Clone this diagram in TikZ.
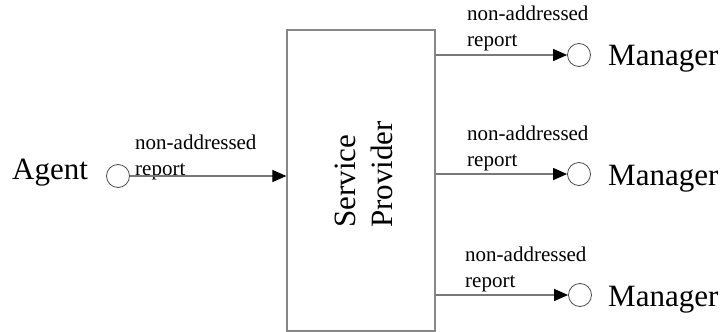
\documentclass[tikz,border=0pt]{standalone}
\usepackage{fontspec}
\setmainfont{Liberation Serif}
\usetikzlibrary{arrows.meta}
\definecolor{linegray}{RGB}{120,120,120}
\definecolor{boxgray}{RGB}{135,135,135}
\begin{document}
\begin{tikzpicture}[x=1pt,y=-1pt,
  port/.style={circle,draw=black!70,line width=0.8pt,minimum size=23pt,inner sep=0pt},
  big/.style={font={\fontsize{31}{37}\selectfont},inner sep=0pt},
  lbl/.style={font={\fontsize{21}{26}\selectfont},inner sep=0pt,align=left},
  conn/.style={draw=linegray,line width=1.2pt,-{Triangle[length=14pt,width=12pt,black]}}]
\useasboundingbox (0,0) rectangle (721,332);
% service provider box
\node[draw=boxgray,line width=1.3pt,minimum width=148pt,minimum height=301pt,inner sep=0pt] (sp) at (361,180.5) {};
\node[big,rotate=90,anchor=base west] (sp1) at (355,228) {Service};
\node[big,rotate=90,anchor=base west] (sp2) at (392,228) {Provider};
% agent
\node[port] (ac) at (118,176) {};
\node[big,anchor=base west] (agent) at (12,179) {Agent};
\node[lbl,anchor=base west] (al) at (135,175) {non-addressed\\report};
\draw[conn] (ac.east) -- (ac.east -| sp.west);
% managers
\node[port] (m1) at (579,55) {};
\node[port] (m2) at (579,174) {};
\node[port] (m3) at (580,295) {};
\node[big,anchor=base west] (mt1) at (608,65) {Manager};
\node[big,anchor=base west] (mt2) at (608,185) {Manager};
\node[big,anchor=base west] (mt3) at (608,306) {Manager};
\node[lbl,anchor=base west] (l1) at (467,46) {non-addressed\\report};
\node[lbl,anchor=base west] (l2) at (467,166) {non-addressed\\report};
\node[lbl,anchor=base west] (l3) at (465,287) {non-addressed\\report};
\draw[conn] (m1.west -| sp.east) -- (m1.west);
\draw[conn] (m2.west -| sp.east) -- (m2.west);
\draw[conn] (m3.west -| sp.east) -- (m3.west);
\end{tikzpicture}
\end{document}
